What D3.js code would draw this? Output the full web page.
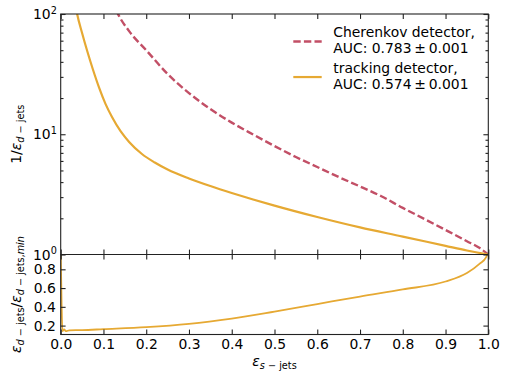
<!DOCTYPE html>
<html>
<head>
<meta charset="utf-8">
<script src="https://cdn.jsdelivr.net/npm/d3@7"></script>
<style>
  body { margin: 0; background: #fff; }
  text { font-family: "DejaVu Sans", sans-serif; }
</style>
</head>
<body>
<div id="chart"></div>
<script>
// signal efficiency vs inverse background efficiency
let cherenkovEff = [0.12, 0.134, 0.16, 0.2, 0.25, 0.3, 0.35, 0.4, 0.45, 0.5, 0.55, 0.6,
    0.65, 0.7, 0.75, 0.8, 0.85, 0.9, 0.95, 0.98, 1.0]
let cherenkovInv = [130, 100, 72, 50, 31.7, 22, 16.2, 12.5, 9.95, 7.98, 6.47, 5.34,
    4.41, 3.68, 3.05, 2.44, 1.98, 1.6, 1.29, 1.13, 1.0]

let trackingEff = [0.03, 0.0385, 0.05, 0.062, 0.075, 0.09, 0.105, 0.12, 0.14, 0.16, 0.19, 0.22,
    0.25, 0.3, 0.35, 0.4, 0.45, 0.5, 0.6, 0.7, 0.8, 0.9, 0.95, 1.0]
let trackingInv = [150, 100, 69.5, 49.2, 34.9, 24.3, 17.8, 13.9, 10.6, 8.63, 6.85, 5.82,
    5.09, 4.29, 3.71, 3.25, 2.87, 2.55, 2.05, 1.68, 1.41, 1.18, 1.08, 1.0]

// lower panel ratio
let ratioEff = [0.0, 0.002, 0.004, 0.008, 0.012, 0.02, 0.05, 0.1, 0.2, 0.3, 0.4, 0.5,
    0.6, 0.7, 0.8, 0.9, 0.95, 0.98, 0.995, 1.0]
let ratioVal = [1.0, 0.45, 0.14, 0.16, 0.14, 0.15, 0.152, 0.162, 0.183, 0.218, 0.275, 0.35,
    0.43, 0.51, 0.585, 0.67, 0.76, 0.86, 0.93, 1.0]

let xTicks = [0, 0.1, 0.2, 0.3, 0.4, 0.5, 0.6, 0.7, 0.8, 0.9, 1.0]
let logMajor = [1, 10, 100]
let logMinor = [2, 3, 4, 5, 6, 7, 8, 9, 20, 30, 40, 50, 60, 70, 80, 90]
let ratioTicks = [0.2, 0.4, 0.6, 0.8]

let legendLabels = [["Cherenkov detector,", "AUC: 0.783\u2009\u00b1\u20090.001"],
    ["tracking detector,", "AUC: 0.574\u2009\u00b1\u20090.001"]]

let cherenkovColor = '#c24f66'
let trackingColor = '#e6a933'

let W = 508, H = 381
let mLeft = 60.7, mRight = 488.3, mTop = 14, mSplit = 254.5, mBottom = 334.5
let fs = 13.9, sub = 9.7

let svg = d3.select('#chart').append('svg')
    .attr('width', W)
    .attr('height', H)

let x = d3.scaleLinear().domain([0, 1]).range([mLeft, mRight])
let yTop = d3.scaleLog().domain([1, 100]).range([mSplit, mTop])
let yBot = d3.scaleLinear().domain([0.105, 0.958]).range([mBottom, mSplit])

// clip regions for the two panels
let defs = svg.append('defs')
defs.append('clipPath').attr('id', 'clipTop').append('rect')
    .attr('x', mLeft).attr('y', mTop).attr('width', mRight - mLeft).attr('height', mSplit - mTop)
defs.append('clipPath').attr('id', 'clipBot').append('rect')
    .attr('x', mLeft).attr('y', mSplit).attr('width', mRight - mLeft).attr('height', mBottom - mSplit)

let lineTop = d3.line()
    .x(function (d) { return x(d[0]) })
    .y(function (d) { return yTop(d[1]) })
    .curve(d3.curveMonotoneX)

let lineBot = d3.line()
    .x(function (d) { return x(d[0]) })
    .y(function (d) { return yBot(d[1]) })
    .curve(d3.curveMonotoneX)

svg.append('path')
    .datum(d3.zip(cherenkovEff, cherenkovInv))
    .attr('clip-path', 'url(#clipTop)')
    .attr('d', lineTop)
    .attr('fill', 'none')
    .attr('stroke', cherenkovColor)
    .attr('stroke-width', 2.4)
    .attr('stroke-dasharray', '7.4,3.2')

svg.append('path')
    .datum(d3.zip(trackingEff, trackingInv))
    .attr('clip-path', 'url(#clipTop)')
    .attr('d', lineTop)
    .attr('fill', 'none')
    .attr('stroke', trackingColor)
    .attr('stroke-width', 2.2)

svg.append('path')
    .datum(d3.zip(ratioEff, ratioVal))
    .attr('clip-path', 'url(#clipBot)')
    .attr('d', lineBot)
    .attr('fill', 'none')
    .attr('stroke', trackingColor)
    .attr('stroke-width', 1.8)

// axes: all ticks point inwards
function styleAxis(g) {
    g.select('.domain').remove()
    g.selectAll('line').attr('stroke', '#222').attr('stroke-width', 1.1)
    g.selectAll('text').attr('font-size', fs).attr('fill', '#000')
        .attr('font-family', '"DejaVu Sans", sans-serif')
}

function addAxis(axis, tx, ty) {
    svg.append('g')
        .attr('transform', 'translate(' + tx + ',' + ty + ')')
        .call(axis)
        .call(styleAxis)
}

let noLabel = function () { return '' }

// top panel
addAxis(d3.axisTop(x).tickValues(xTicks).tickSize(-4.9).tickSizeOuter(0).tickFormat(noLabel), 0, mTop)
addAxis(d3.axisBottom(x).tickValues(xTicks).tickSize(-4.9).tickSizeOuter(0).tickFormat(noLabel), 0, mSplit)
addAxis(d3.axisLeft(yTop).tickValues(logMajor).tickSize(-4.9).tickSizeOuter(0).tickFormat(noLabel), mLeft, 0)
addAxis(d3.axisLeft(yTop).tickValues(logMinor).tickSize(-2.8).tickSizeOuter(0).tickFormat(noLabel), mLeft, 0)
addAxis(d3.axisRight(yTop).tickValues(logMajor).tickSize(-4.9).tickSizeOuter(0).tickFormat(noLabel), mRight, 0)
addAxis(d3.axisRight(yTop).tickValues(logMinor).tickSize(-2.8).tickSizeOuter(0).tickFormat(noLabel), mRight, 0)

// bottom panel
addAxis(d3.axisTop(x).tickValues(xTicks).tickSize(-4.9).tickSizeOuter(0).tickFormat(noLabel), 0, mSplit)
addAxis(d3.axisBottom(x).tickValues(xTicks).tickSize(-4.9).tickSizeOuter(0).tickPadding(4.9)
    .tickFormat(d3.format('.1f')), 0, mBottom)
addAxis(d3.axisLeft(yBot).tickValues(ratioTicks).tickSize(-4.9).tickSizeOuter(0).tickPadding(4.9)
    .tickFormat(d3.format('.1f')), mLeft, 0)
addAxis(d3.axisRight(yBot).tickValues(ratioTicks).tickSize(-4.9).tickSizeOuter(0).tickFormat(noLabel), mRight, 0)

// log tick labels 10^n
logMajor.forEach(function (v) {
    let t = svg.append('text')
        .attr('x', mLeft - 3.8)
        .attr('y', yTop(v) + 5)
        .attr('text-anchor', 'end')
        .attr('font-size', fs)
    t.append('tspan').text('10')
    t.append('tspan').attr('font-size', sub).attr('dy', -5.5).text(Math.round(Math.log10(v)))
})

// frames
svg.append('rect')
    .attr('x', mLeft).attr('y', mTop).attr('width', mRight - mLeft).attr('height', mBottom - mTop)
    .attr('fill', 'none').attr('stroke', '#222').attr('stroke-width', 1.1)
svg.append('line')
    .attr('x1', mLeft).attr('x2', mRight).attr('y1', mSplit).attr('y2', mSplit)
    .attr('stroke', '#222').attr('stroke-width', 1.1)

// math-like labels built from tspans
function mathLabel(parts, tx, ty, rot) {
    let t = svg.append('text')
        .attr('transform', 'translate(' + tx + ',' + ty + ')' + (rot ? ' rotate(-90)' : ''))
        .attr('text-anchor', 'middle')
        .attr('font-size', fs)
    let shift = 0
    parts.forEach(function (p) {
        let s = t.append('tspan').text(p.t)
        let want = p.sub ? 3 : 0
        if (want !== shift) { s.attr('dy', want - shift); shift = want }
        if (p.sub) s.attr('font-size', sub)
        if (p.it) s.attr('font-style', 'italic')
    })
}

mathLabel([{ t: '1/' }, { t: 'ε', it: true }, { t: 'd', it: true, sub: true }, { t: ' − jets', sub: true }],
    20.5, (mTop + mSplit) / 2, true)
mathLabel([{ t: 'ε', it: true }, { t: 'd', it: true, sub: true }, { t: ' − jets', sub: true }, { t: '/' },
    { t: 'ε', it: true }, { t: 'd', it: true, sub: true }, { t: ' − jets,', sub: true },
    { t: 'min', it: true, sub: true }], 20.5, (mSplit + mBottom) / 2, true)
mathLabel([{ t: 'ε', it: true }, { t: 's', it: true, sub: true }, { t: ' − jets', sub: true }],
    (mLeft + mRight) / 2, 366, false)

// legend
let legendY = [[37.3, 53.0], [72.8, 88.5]]
let legendColors = [cherenkovColor, trackingColor]
legendLabels.forEach(function (lines, i) {
    let mid = (legendY[i][0] + legendY[i][1]) / 2 - 3.6
    let ln = svg.append('line')
        .attr('x1', 293.3).attr('x2', 321.7).attr('y1', mid).attr('y2', mid)
        .attr('stroke', legendColors[i])
        .attr('stroke-width', i === 0 ? 2.4 : 2.2)
    if (i === 0) ln.attr('stroke-dasharray', '7.4,3.2')
    lines.forEach(function (s, j) {
        svg.append('text')
            .attr('x', 333.3)
            .attr('y', legendY[i][j])
            .attr('font-size', fs)
            .text(s)
    })
})
</script>
</body>
</html>
